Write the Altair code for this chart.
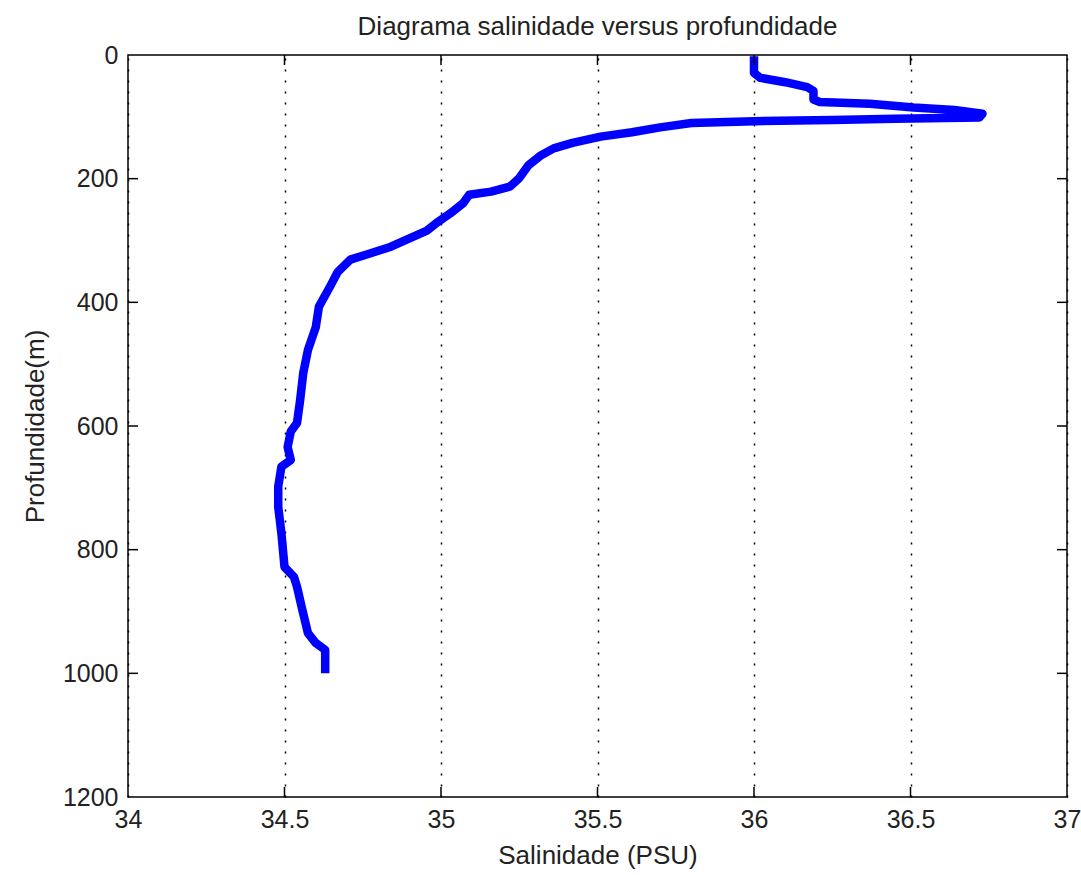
import altair as alt
import pandas as pd

salinity = [36.00, 36.00, 36.00, 36.02, 36.10, 36.17, 36.19, 36.19, 36.21, 36.37,
            36.51, 36.64, 36.73, 36.72, 36.45, 36.25, 36.00, 35.80, 35.70, 35.61,
            35.51, 35.42, 35.36, 35.32, 35.28, 35.25, 35.22, 35.16, 35.09, 35.07,
            35.03, 34.99, 34.955, 34.91, 34.84, 34.76, 34.71, 34.67, 34.645, 34.61,
            34.60, 34.575, 34.56, 34.55, 34.54, 34.52, 34.51, 34.52, 34.49, 34.48,
            34.48, 34.49, 34.50, 34.53, 34.54, 34.555, 34.565, 34.575, 34.60, 34.63,
            34.63, 34.63]
depth = [2, 8, 29, 37, 44, 52, 58, 72, 76, 79,
         85, 89, 95, 101, 103, 105, 107, 110, 117, 125,
         132, 142, 151, 162, 178, 199, 213, 221, 226, 240,
         256, 270, 284, 294, 310, 323, 331, 351, 375, 407,
         440, 477, 514, 558, 595, 609, 634, 655, 666, 698,
         731, 773, 828, 844, 860, 893, 914, 935, 951, 962,
         978, 1000]

x_ticks = [34, 34.5, 35, 35.5, 36, 36.5, 37]
y_ticks = [0, 200, 400, 600, 800, 1000, 1200]

W, H = 939, 742
FONT = "Liberation Sans"

df = pd.DataFrame({"S": salinity, "D": depth, "i": list(range(len(depth)))})
xt = pd.DataFrame({"S": x_ticks[1:-1]})
yt = pd.DataFrame({"D": y_ticks[1:-1]})

x_enc = alt.X(
    "S:Q",
    scale=alt.Scale(domain=[34, 37], nice=False, zero=False),
    axis=alt.Axis(
        values=x_ticks, format="~g", title="Salinidade (PSU)", grid=True, gridColor="black",
        gridDash=[2, 9], gridWidth=1.5, gridOpacity=1, ticks=False, domain=False,
        labelFont=FONT, labelFontSize=25, labelColor="#222", labelPadding=10,
        titleFont=FONT, titleFontSize=26, titleFontWeight="normal", titleColor="#222",
        titlePadding=10, labelFlush=False, labelOverlap=False,
    ),
)
y_enc = alt.Y(
    "D:Q",
    scale=alt.Scale(domain=[0, 1200], reverse=True, nice=False, zero=False),
    axis=alt.Axis(
        values=y_ticks, format="d", title="Profundidade(m)", grid=False, ticks=False,
        domain=False,
        labelFont=FONT, labelFontSize=25, labelColor="#222", labelPadding=10,
        titleFont=FONT, titleFontSize=26, titleFontWeight="normal", titleColor="#222",
        titlePadding=14, labelFlush=False, labelOverlap=False,
    ),
)

line = alt.Chart(df).mark_line(color="#0000ff", strokeWidth=8.5, strokeCap="butt",
                               strokeJoin="round").encode(
    x=x_enc, y=y_enc, order="i:Q"
)

tick_bottom = alt.Chart(xt).mark_rule(color="black", strokeWidth=1.5).encode(
    x=x_enc, y=alt.value(H), y2=alt.value(H - 10))
tick_top = alt.Chart(xt).mark_rule(color="black", strokeWidth=1.5).encode(
    x=x_enc, y=alt.value(0), y2=alt.value(10))
tick_left = alt.Chart(yt).mark_rule(color="black", strokeWidth=1.5).encode(
    y=y_enc, x=alt.value(0), x2=alt.value(10))
tick_right = alt.Chart(yt).mark_rule(color="black", strokeWidth=1.5).encode(
    y=y_enc, x=alt.value(W), x2=alt.value(W - 10))

chart = alt.layer(line, tick_bottom, tick_top, tick_left, tick_right).properties(
    width=W, height=H,
    title=alt.TitleParams("Diagrama salinidade versus profundidade", font=FONT,
                          fontSize=26, fontWeight="normal", color="#222", offset=3,
                          frame="group"),
    autosize=alt.AutoSizeParams(type="none"),
    padding={"left": 128, "top": 55, "right": 14, "bottom": 78},
    background="white",
).configure_view(stroke="black", strokeWidth=1.5)

chart.save("out.html", embed_options={"renderer": "svg", "actions": False})
